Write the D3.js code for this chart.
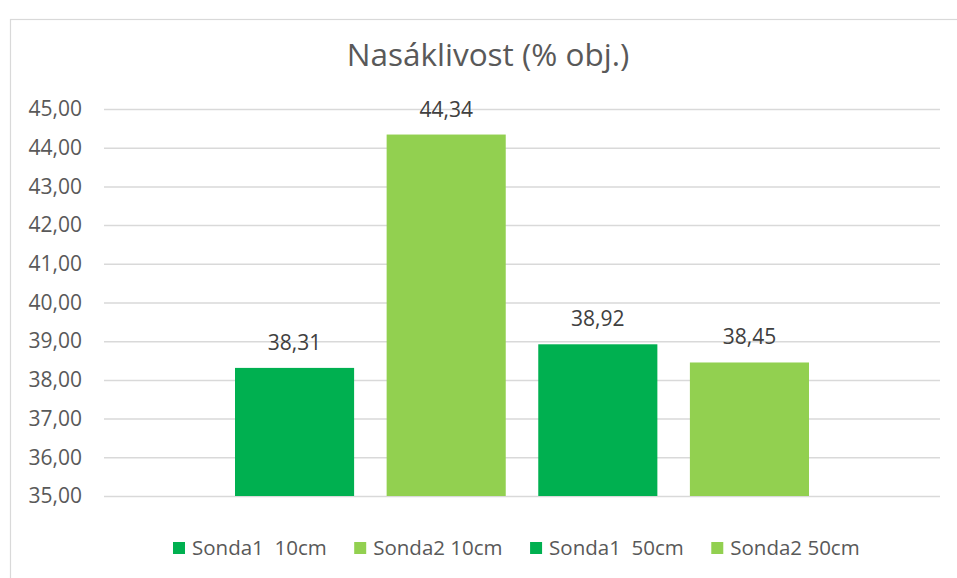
<!DOCTYPE html>
<html>
<head>
<meta charset="utf-8">
<script src="https://cdn.jsdelivr.net/npm/d3@7"></script>
<style>
  body { margin: 0; background: #fff; }
  text { font-family: "Open Sans", sans-serif; }
</style>
</head>
<body>
<div id="chart"></div>
<script>
const title = "Nasáklivost (% obj.)";
const seriesNames = ["Sonda1  10cm", "Sonda2 10cm", "Sonda1  50cm", "Sonda2 50cm"];
const seriesValues = [38.31, 44.34, 38.92, 38.45];
const seriesColors = ["#00B050", "#92D050", "#00B050", "#92D050"];
const yTicks = [35, 36, 37, 38, 39, 40, 41, 42, 43, 44, 45];

const width = 957, height = 578;
const plot = {left: 104, right: 940, top: 109, bottom: 496};

const fmt = v => v.toFixed(2).replace(".", ",");

const svg = d3.select("#chart").append("svg")
  .attr("width", width)
  .attr("height", height);

// chart area border (right and bottom are cut off in the picture)
svg.append("rect")
  .attr("x", 10.5).attr("y", 19.5)
  .attr("width", width).attr("height", height)
  .attr("fill", "none")
  .attr("stroke", "#d9d9d9")
  .attr("stroke-width", 1.2);

svg.append("text")
  .attr("x", 488).attr("y", 66)
  .attr("text-anchor", "middle")
  .attr("font-size", 31.5)
  .attr("fill", "#595959")
  .text(title);

const y = d3.scaleLinear()
  .domain([d3.min(yTicks), d3.max(yTicks)])
  .range([plot.bottom, plot.top]);

// one category, four series side by side in the middle of the plot
const x = d3.scaleBand()
  .domain(seriesNames)
  .range([plot.left + 131, plot.right - 131])
  .paddingInner(0.2145)
  .paddingOuter(0);

const yAxis = svg.append("g")
  .attr("transform", `translate(${plot.left},0)`)
  .call(d3.axisLeft(y).tickValues(yTicks).tickFormat(fmt)
    .tickSize(-(plot.right - plot.left)).tickPadding(22));

yAxis.select(".domain").remove();
yAxis.selectAll(".tick line")
  .attr("stroke", "#d9d9d9")
  .attr("stroke-width", 1.5);
yAxis.selectAll(".tick text")
  .attr("font-family", "Open Sans")
  .attr("font-size", 21)
  .attr("fill", "#595959");

const bars = svg.append("g")
  .selectAll("g")
  .data(seriesNames.map((name, i) => ({name, value: seriesValues[i], color: seriesColors[i]})))
  .enter().append("g");

bars.append("rect")
  .attr("x", d => x(d.name))
  .attr("y", d => y(d.value))
  .attr("width", x.bandwidth())
  .attr("height", d => y(35) - y(d.value))
  .attr("fill", d => d.color);

bars.append("text")
  .attr("x", d => x(d.name) + x.bandwidth() / 2)
  .attr("y", d => y(d.value) - 18)
  .attr("text-anchor", "middle")
  .attr("font-size", 21)
  .attr("fill", "#404040")
  .text(d => fmt(d.value));

// legend, laid out left to right
const legend = svg.append("g");
let lx = 173;
seriesNames.forEach((name, i) => {
  legend.append("rect")
    .attr("x", lx).attr("y", 542)
    .attr("width", 12).attr("height", 12)
    .attr("fill", seriesColors[i]);
  const t = legend.append("text")
    .attr("x", lx + 19).attr("y", 555)
    .attr("font-size", 20.5)
    .attr("fill", "#595959")
    .style("white-space", "pre")
    .text(name);
  lx += 19 + t.node().getComputedTextLength() + 27.5;
});
</script>
</body>
</html>
